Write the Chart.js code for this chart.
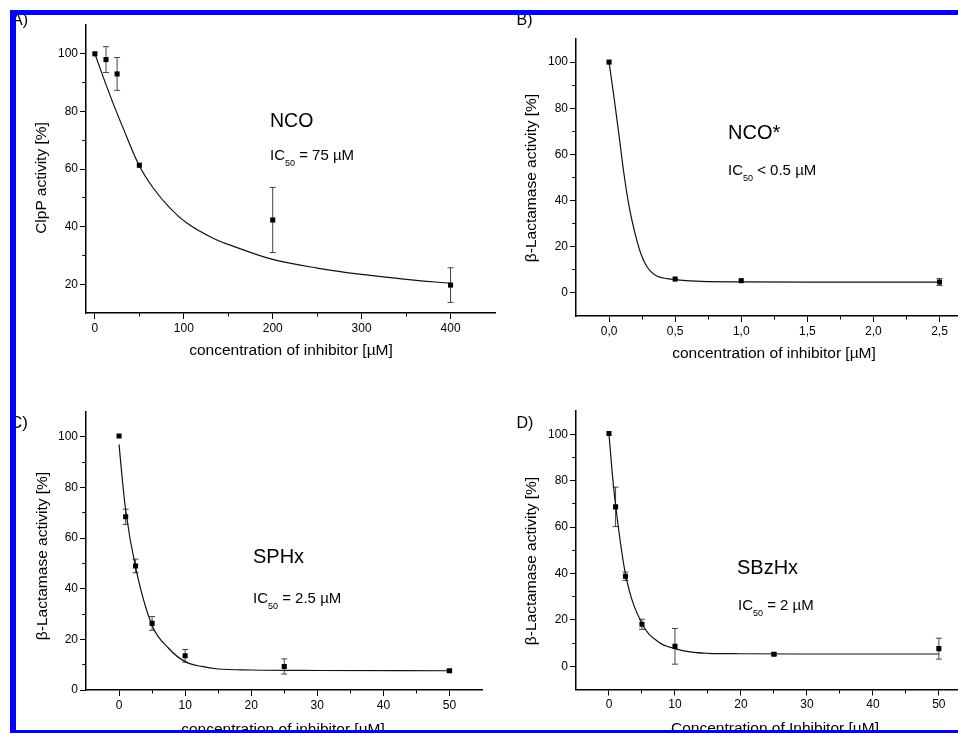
<!DOCTYPE html>
<html>
<head>
<meta charset="utf-8">
<script src="https://cdn.jsdelivr.net/npm/chart.js@4.4.0/dist/chart.umd.min.js"></script>
<style>
  html, body { margin: 0; padding: 0; background: #fff; }
  body { width: 958px; height: 734px; position: relative; overflow: hidden;
         font-family: "Liberation Sans", Arial, sans-serif; color: #000; }
  canvas { position: absolute; left: 0; top: 0; }
  .t { position: absolute; white-space: nowrap; line-height: 1; z-index: 3; }
  .sub { font-size: 9px; position: relative; top: 6px; }
  .frame { position: absolute; background: #0000ff; z-index: 5; }
</style>
</head>
<body>
<canvas id="chartA" width="958" height="734"></canvas>
<canvas id="chartB" width="958" height="734"></canvas>
<canvas id="chartC" width="958" height="734"></canvas>
<canvas id="chartD" width="958" height="734"></canvas>

<div class="frame" style="left:10px;top:10px;width:948px;height:5px"></div>
<div class="frame" style="left:10px;top:10px;width:6px;height:723px"></div>
<div class="frame" style="left:10px;top:730px;width:948px;height:3px"></div>
<div style="position:absolute;left:0;top:733px;width:958px;height:1px;background:#fff;z-index:6"></div>

<script>
// A) ClpP activity vs NCO
const aConc = [0, 12.5, 25, 50, 200, 400];
const aActivity = [100, 98, 93, 61.3, 42.3, 19.7];
const aError = [0, 4.5, 5.7, 0, 11.3, 6];
const aFitConc = [0, 9.4, 20.6, 31.9, 49.5, 65.6, 84.3, 103, 134, 150, 200, 250, 300, 350, 400];
const aFitActivity = [100, 91.9, 82.7, 74.1, 61.4, 53.4, 46.5, 41.3, 35.8, 33.8, 28.6, 25.6, 23.4, 21.7, 20.3];
const aXTicks = [0, 100, 200, 300, 400];
const aXMinor = [50, 150, 250, 350];
const aYTicks = [20, 40, 60, 80, 100];
const aYMinor = [30, 50, 70, 90];

// B) beta-lactamase vs NCO*
const bConc = [0, 0.5, 1.0, 2.5];
const bActivity = [100, 6.0, 5.3, 4.7];
const bError = [0, 0, 0, 1.5];
const bFitConc = [0, 0.038, 0.076, 0.113, 0.151, 0.189, 0.214, 0.239, 0.277, 0.315, 0.365, 0.44, 0.5, 0.7, 1.0, 1.5, 2.0, 2.5];
const bFitActivity = [100, 84.5, 68, 51.5, 37.7, 27.5, 22, 17.3, 12.3, 9.3, 7.2, 6.2, 5.8, 5.0, 4.8, 4.7, 4.7, 4.7];
const bXTicks = [0, 0.5, 1.0, 1.5, 2.0, 2.5];
const bXMinor = [0.25, 0.75, 1.25, 1.75, 2.25];
const bYTicks = [0, 20, 40, 60, 80, 100];
const bYMinor = [10, 30, 50, 70, 90];

// C) beta-lactamase vs SPHx
const cConc = [0, 1, 2.5, 5, 10, 25, 50];
const cActivity = [100.3, 68.4, 49, 26.3, 13.5, 9.3, 7.6];
const cError = [0, 3, 2.7, 2.7, 2.5, 3, 0.5];
const cFitConc = [0, 0.5, 1, 2.5, 5, 7.5, 10, 12.5, 15, 20, 30, 50];
const cFitActivity = [97, 83, 71, 48.5, 25.5, 16.5, 11.2, 9.3, 8.3, 7.9, 7.7, 7.6];
const cXTicks = [0, 10, 20, 30, 40, 50];
const cXMinor = [5, 15, 25, 35, 45];
const cYTicks = [0, 20, 40, 60, 80, 100];
const cYMinor = [10, 30, 50, 70, 90];

// D) beta-lactamase vs SBzHx
const dConc = [0, 1, 2.5, 5, 10, 25, 50];
const dActivity = [100.3, 68.7, 38.8, 18.1, 8.6, 5.2, 7.6];
const dError = [0, 8.5, 1.8, 2.2, 7.7, 0.6, 4.5];
const dFitConc = [0, 0.5, 1, 2.5, 5, 7.5, 10, 12.5, 15, 20, 30, 50];
const dFitActivity = [100, 83, 69.5, 39.7, 18.4, 10.5, 7.6, 6.1, 5.6, 5.4, 5.3, 5.3];
const dXTicks = [0, 10, 20, 30, 40, 50];
const dXMinor = [5, 15, 25, 35, 45];
const dYTicks = [0, 20, 40, 60, 80, 100];
const dYMinor = [10, 30, 50, 70, 90];

Chart.defaults.font.family = "'Liberation Sans', Arial, sans-serif";
Chart.defaults.color = '#000';

const YW = 40, XH = 30; // fixed axis box sizes, titles are placed as html text

function makePanel(p) {
  const xAll = [...p.xTicks, ...p.xMinor].sort((a, b) => a - b);
  const yAll = [...p.yTicks, ...p.yMinor].sort((a, b) => a - b);
  const [left, top, right, bottom] = p.area;

  const points = p.conc.map((x, i) => ({x, y: p.act[i]}));
  const fit = p.fitX.map((x, i) => ({x, y: p.fitY[i]}));
  const bars = p.conc.flatMap((x, i) => p.err[i]
    ? [{x, y: p.act[i] - p.err[i]}, {x, y: p.act[i] + p.err[i]}, {x, y: null}]
    : []);

  return new Chart(document.getElementById(p.id), {
    type: 'scatter',
    data: {
      datasets: [
        { label: 'data', data: points, pointStyle: 'rect', pointRadius: 3.6,
          pointBackgroundColor: '#000', pointBorderColor: '#000', pointBorderWidth: 0 },
        { label: 'fit', data: fit, showLine: true, pointRadius: 0, borderColor: '#111',
          borderWidth: 1.2, cubicInterpolationMode: 'monotone' },
        { label: 'error', data: bars, showLine: true, spanGaps: false, borderColor: '#444',
          borderWidth: 1, pointStyle: 'line', pointRadius: 3, pointBorderColor: '#444',
          pointBorderWidth: 1 }
      ]
    },
    options: {
      responsive: false,
      animation: false,
      events: [],
      layout: {
        autoPadding: false,
        padding: { left: left - YW, top: top, right: 958 - right, bottom: 734 - bottom - XH }
      },
      plugins: { legend: { display: false }, tooltip: { enabled: false } },
      scales: {
        x: {
          type: 'linear', min: p.xRange[0], max: p.xRange[1],
          afterBuildTicks: s => { s.ticks = xAll.map(v => ({value: v})); },
          afterFit: s => { s.height = XH; s.paddingLeft = 0; s.paddingRight = 0; },
          ticks: {
            autoSkip: false, maxRotation: 0, padding: 2, font: { size: 12 },
            callback: v => p.xTicks.includes(v) ? p.xFmt(v) : ''
          },
          grid: {
            drawOnChartArea: false, tickLength: 6, tickColor: '#000', tickWidth: 1,
            tickBorderDash: c => p.xTicks.includes(c.tick.value) ? [] : [3, 20]
          },
          border: { display: true, color: '#000', width: 1.5 }
        },
        y: {
          type: 'linear', min: p.yRange[0], max: p.yRange[1],
          afterBuildTicks: s => { s.ticks = yAll.map(v => ({value: v})); },
          afterFit: s => { s.width = YW; s.paddingTop = 0; s.paddingBottom = 0; },
          ticks: {
            autoSkip: false, padding: 2, font: { size: 12 },
            callback: v => p.yTicks.includes(v) ? String(v) : ''
          },
          grid: {
            drawOnChartArea: false, tickLength: 6, tickColor: '#000', tickWidth: 1,
            tickBorderDash: c => p.yTicks.includes(c.tick.value) ? [] : [0, 2.25, 3, 20]
          },
          border: { display: true, color: '#000', width: 1.5 }
        }
      }
    }
  });
}

const plain = v => String(v);
const comma = v => v.toFixed(1).replace('.', ',');

makePanel({ id: 'chartA', area: [86, 25, 495, 313], xRange: [-10, 450], yRange: [10, 110],
  conc: aConc, act: aActivity, err: aError, fitX: aFitConc, fitY: aFitActivity,
  xTicks: aXTicks, xMinor: aXMinor, yTicks: aYTicks, yMinor: aYMinor, xFmt: plain });
makePanel({ id: 'chartB', area: [576, 39, 958, 316], xRange: [-0.25, 2.64], yRange: [-10, 110],
  conc: bConc, act: bActivity, err: bError, fitX: bFitConc, fitY: bFitActivity,
  xTicks: bXTicks, xMinor: bXMinor, yTicks: bYTicks, yMinor: bYMinor, xFmt: comma });
makePanel({ id: 'chartC', area: [86, 411.5, 482.5, 690], xRange: [-5, 55], yRange: [0, 110],
  conc: cConc, act: cActivity, err: cError, fitX: cFitConc, fitY: cFitActivity,
  xTicks: cXTicks, xMinor: cXMinor, yTicks: cYTicks, yMinor: cYMinor, xFmt: plain });
makePanel({ id: 'chartD', area: [576, 411, 958, 689.5], xRange: [-5, 52.9], yRange: [-10, 110],
  conc: dConc, act: dActivity, err: dError, fitX: dFitConc, fitY: dFitActivity,
  xTicks: dXTicks, xMinor: dXMinor, yTicks: dYTicks, yMinor: dYMinor, xFmt: plain });

// text placed by baseline
function addText(html, left, baseline, size, center) {
  const d = document.createElement('div');
  d.className = 't';
  d.innerHTML = html;
  d.style.fontSize = size + 'px';
  d.style.top = (baseline - 0.8465 * size) + 'px';
  d.style.left = left + 'px';
  if (center) d.style.transform = 'translateX(-50%)';
  document.body.appendChild(d);
}
function addVText(txt, cx, cy, size) {
  const d = document.createElement('div');
  d.className = 't';
  d.textContent = txt;
  d.style.fontSize = size + 'px';
  d.style.left = (cx - 0.087 * size) + 'px';
  d.style.top = cy + 'px';
  d.style.transform = 'translate(-50%, -50%) rotate(-90deg)';
  document.body.appendChild(d);
}

addText('A)', 12, 25.5, 16);
addText('B)', 516.5, 25.5, 16);
addText('C)', 10, 428, 17);
addText('D)', 516.5, 428.5, 16);

addVText('ClpP activity [%]', 42.5, 178, 15.5);
addVText('β-Lactamase activity [%]', 532.5, 177.5, 15.5);
addVText('β-Lactamase activity [%]', 43.5, 556, 15.5);
addVText('β-Lactamase activity [%]', 532.5, 560.5, 15.5);

addText('concentration of inhibitor [µM]', 291, 355, 15.5, true);
addText('concentration of inhibitor [µM]', 774, 358.5, 15.5, true);
addText('concentration of inhibitor [µM]', 283, 734, 15.5, true);
addText('Concentration of Inhibitor [µM]', 775, 733, 15.5, true);

addText('NCO', 270, 128, 19.5);
addText('IC<span class="sub">50</span> = 75 µM', 270, 160, 15);
addText('NCO*', 728, 139, 20);
addText('IC<span class="sub">50</span> &lt; 0.5 µM', 728, 175, 15);
addText('SPHx', 253, 563, 20);
addText('IC<span class="sub">50</span> = 2.5 µM', 253, 603, 15);
addText('SBzHx', 737, 574, 20);
addText('IC<span class="sub">50</span> = 2 µM', 738, 610, 15);
</script>
</body>
</html>
